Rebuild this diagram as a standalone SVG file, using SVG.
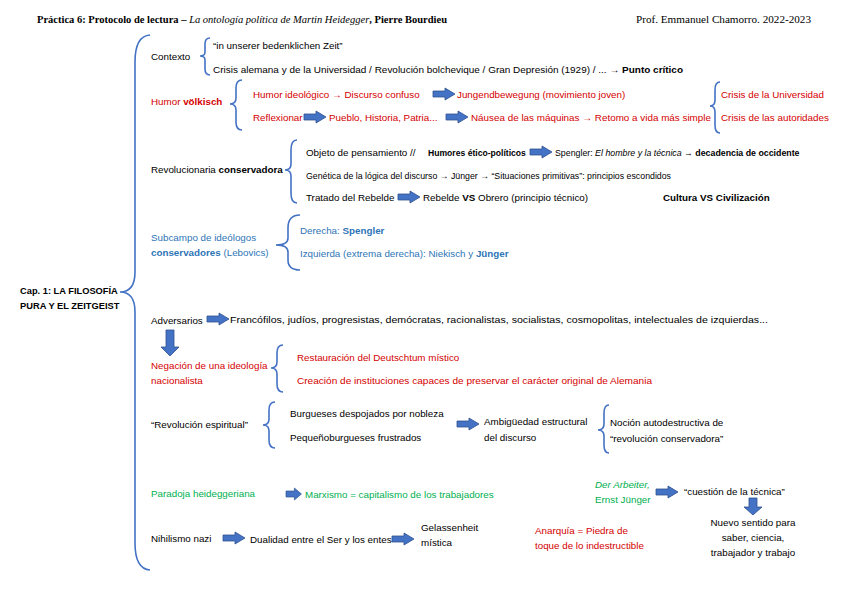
<svg xmlns="http://www.w3.org/2000/svg" xmlns:xlink="http://www.w3.org/1999/xlink" width="848" height="599" viewBox="0 0 848 599">
<defs>
<style>
text{font-family:"Liberation Sans",Arial,sans-serif;font-size:9.8px;fill:#000}
.hd{font-family:"Liberation Serif","Times New Roman",serif;font-size:10.5px}
.b{font-weight:bold}
.i{font-style:italic}
.r{fill:#D40000}
.bl{fill:#2E75B6}
.g{fill:#00B050}
.br{fill:none;stroke:#4472C4;stroke-width:1.6}
.ar{fill:#4472C4;stroke:#2F528F;stroke-width:0.8}
.c{text-anchor:middle}
</style>
<path id="ar" class="ar" d="M0,-3 H12 V-6 L22,0 L12,6 V3 H0 Z"/>
<path id="ad" class="ar" d="M-4,0 V17 H-9 L0,26 L9,17 H4 V0 Z"/>
<path id="ad2" class="ar" d="M-4,0 V9 H-9 L0,17 L9,9 H4 V0 Z"/>
</defs>
<rect width="848" height="599" fill="#fff"/>

<g id="header">
<text class="hd" x="37" y="23" textLength="410" lengthAdjust="spacingAndGlyphs"><tspan class="b">Práctica 6: Protocolo de lectura – </tspan><tspan class="i">La ontología política de Martin Heidegger</tspan><tspan class="b">, Pierre Bourdieu</tspan></text>
<text class="hd" x="636" y="23" textLength="175" lengthAdjust="spacingAndGlyphs">Prof. Emmanuel Chamorro. 2022-2023</text>
</g>

<g id="braces">
<path class="br" d="M150,35 Q135,36 135,62 L135,272 Q135,292 120,292 Q135,292 135,312 L135,543 Q135,569 150,570"/>
<path class="br" d="M210,38 Q205,38 205,44 L205,52 Q205,56 200,56 Q205,56 205,60 L205,69 Q205,75 210,75"/>
<path class="br" d="M242,80 Q236,80 236,88 L236,98 Q236,104 230,104 Q236,104 236,110 L236,122 Q236,130 242,130"/>
<path class="br" d="M720,82 Q715,82 715,90 L715,100 Q715,106 710,106 Q715,106 715,112 L715,125 Q715,133 720,133"/>
<path class="br" d="M297,140 Q291,140 291,150 L291,164 Q291,170 285,170 Q291,170 291,176 L291,193 Q291,203 297,203"/>
<path class="br" d="M300,215 Q288,215 288,228 L288,238 Q288,245 276,245 Q288,245 288,252 L288,260 Q288,270 300,270"/>
<path class="br" d="M283,345 Q277,345 277,353 L277,362 Q277,368 271,368 Q277,368 277,374 L277,384 Q277,392 283,392"/>
<path class="br" d="M275,402 Q269,402 269,410 L269,419 Q269,425 263,425 Q269,425 269,431 L269,440 Q269,448 275,448"/>
<path class="br" d="M609,405 Q604,405 604,413 L604,424 Q604,430 598,430 Q604,430 604,436 L604,445 Q604,453 609,453"/>
</g>

<g id="connectors">
<use href="#ar" x="433" y="94"/>
<use href="#ar" x="304" y="117"/>
<use href="#ar" x="446" y="117"/>
<use href="#ar" x="530" y="152"/>
<use href="#ar" x="398" y="197"/>
<use href="#ar" x="207" y="319"/>
<use href="#ad" x="170" y="330"/>
<use href="#ar" x="457" y="424"/>
<use href="#ar" transform="translate(286,494) scale(0.7,1)"/>
<use href="#ar" x="656" y="492"/>
<use href="#ad2" x="753" y="498"/>
<use href="#ar" x="223" y="538"/>
<use href="#ar" x="392" y="539"/>
</g>

<g id="root">
<text class="b" x="20" y="294" style="font-size:9.3px">Cap. 1: LA FILOSOFÍA</text>
<text class="b" x="20" y="309" style="font-size:9.3px">PURA Y EL ZEITGEIST</text>
</g>

<g id="contexto">
<text x="151" y="60">Contexto</text>
<text x="213" y="49">“in unserer bedenklichen Zeit”</text>
<text x="213" y="73" textLength="470" lengthAdjust="spacingAndGlyphs">Crisis alemana y de la Universidad / Revolución bolchevique / Gran Depresión (1929) / ... → <tspan class="b">Punto crítico</tspan></text>
</g>

<g id="humor">
<text class="r" x="151" y="105">Humor <tspan class="b">völkisch</tspan></text>
<text class="r" x="253" y="98">Humor ideológico → Discurso confuso</text>
<text class="r" x="457" y="98">Jungendbewegung (movimiento joven)</text>
<text class="r" x="253" y="121">Reflexionar</text>
<text class="r" x="329" y="121">Pueblo, Historia, Patria...</text>
<text class="r" x="471" y="121" textLength="240" lengthAdjust="spacingAndGlyphs">Náusea de las máquinas → Retomo a vida más simple</text>
<text class="r" x="721" y="98">Crisis de la Universidad</text>
<text class="r" x="721" y="121" textLength="108" lengthAdjust="spacingAndGlyphs">Crisis de las autoridades</text>
</g>

<g id="revolucionaria">
<text x="151" y="173">Revolucionaria <tspan class="b">conservadora</tspan></text>
<text x="306" y="156">Objeto de pensamiento  //</text>
<text class="b" x="428" y="156" style="font-size:8.6px">Humores ético-políticos</text>
<text x="555" y="156" style="font-size:8.8px">Spengler: <tspan class="i">El hombre y la técnica</tspan> → <tspan class="b">decadencia de occidente</tspan></text>
<text x="306" y="179" textLength="365" lengthAdjust="spacingAndGlyphs">Genética de la lógica del discurso → Jünger → “Situaciones primitivas”: principios escondidos</text>
<text x="306" y="201">Tratado del Rebelde</text>
<text x="423" y="201">Rebelde <tspan class="b">VS</tspan> Obrero (principio técnico)</text>
<text class="b" x="663" y="201">Cultura VS Civilización</text>
</g>

<g id="subcampo">
<text class="bl" x="151" y="241">Subcampo de ideólogos</text>
<text class="bl" x="151" y="256"><tspan class="b">conservadores</tspan> (Lebovics)</text>
<text class="bl" x="300" y="234">Derecha: <tspan class="b">Spengler</tspan></text>
<text class="bl" x="300" y="257">Izquierda (extrema derecha): Niekisch y <tspan class="b">Jünger</tspan></text>
</g>

<g id="adversarios">
<text x="151" y="324">Adversarios</text>
<text x="230" y="323" textLength="538" lengthAdjust="spacingAndGlyphs">Francófilos, judíos, progresistas, demócratas, racionalistas, socialistas, cosmopolitas, intelectuales de izquierdas...</text>
</g>

<g id="negacion">
<text class="r" x="151" y="369">Negación de una ideología</text>
<text class="r" x="151" y="384">nacionalista</text>
<text class="r" x="297" y="361">Restauración del Deutschtum místico</text>
<text class="r" x="297" y="384" textLength="355" lengthAdjust="spacingAndGlyphs">Creación de instituciones capaces de preservar el carácter original de Alemania</text>
</g>

<g id="revolucion-espiritual">
<text x="151" y="428">“Revolución espiritual”</text>
<text x="290" y="417">Burgueses despojados por nobleza</text>
<text x="290" y="441">Pequeñoburgueses frustrados</text>
<text x="484" y="425">Ambigüedad estructural</text>
<text x="484" y="441">del discurso</text>
<text x="610" y="426">Noción autodestructiva de</text>
<text x="610" y="442">“revolución conservadora”</text>
</g>

<g id="paradoja">
<text class="g" x="151" y="497">Paradoja heideggeriana</text>
<text class="g" x="305" y="498">Marxismo = capitalismo de los trabajadores</text>
</g>

<g id="arbeiter">
<text class="g i" x="595" y="488">Der Arbeiter,</text>
<text class="g" x="595" y="503">Ernst Jünger</text>
<text x="684" y="495">“cuestión de la técnica”</text>
<text class="c" x="753" y="526">Nuevo sentido para</text>
<text class="c" x="753" y="541">saber, ciencia,</text>
<text class="c" x="753" y="556">trabajador y trabajo</text>
</g>

<g id="nihilismo">
<text x="151" y="542">Nihilismo nazi</text>
<text x="250" y="543">Dualidad entre el Ser y los entes</text>
<text x="421" y="531">Gelassenheit</text>
<text x="421" y="546">mística</text>
<text class="r" x="535" y="534">Anarquía = Piedra de</text>
<text class="r" x="535" y="549">toque de lo indestructible</text>
</g>
</svg>
